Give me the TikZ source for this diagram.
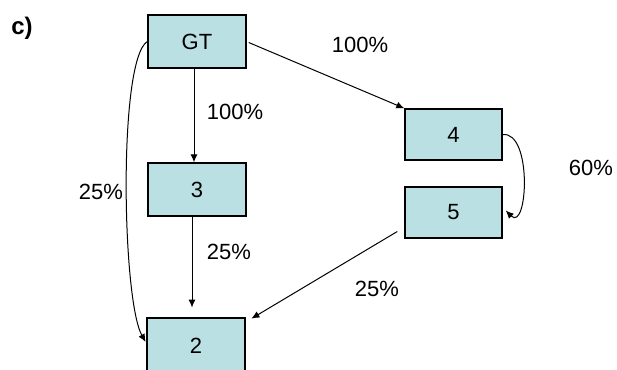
\documentclass[tikz,border=0pt]{standalone}
\usepackage{fontspec}
\setmainfont{Liberation Sans}
\usetikzlibrary{arrows.meta}
\definecolor{boxfill}{RGB}{187,224,227}
\tikzset{
  box/.style={draw=black, line width=1.4pt, fill=boxfill, minimum width=98pt, minimum height=53pt, inner sep=0pt, font=\fontsize{22}{24}\selectfont},
  arr/.style={draw=black, line width=1pt, -{Latex[length=8pt,width=7pt]}},
  lbl/.style={font=\fontsize{22}{24}\selectfont, inner sep=0pt}
}
\begin{document}
\begin{tikzpicture}[x=1pt,y=-1pt]
\useasboundingbox (0,0) rectangle (617,369);
\clip (0,0) rectangle (617,369);
\node[font=\bfseries\fontsize{24}{26}\selectfont, inner sep=0pt] (c) at (22,28) {c)};
\node[box] (GT) at (197,41.5) {GT};
\node[box] (n3) at (197,189.5) {3};
\node[box, minimum width=97pt, minimum height=51pt] (n4) at (453.5,134.5) {4};
\node[box, minimum width=97pt, minimum height=51pt] (n5) at (453.5,212.5) {5};
\node[box, line width=2.8pt, minimum height=56pt] (n2) at (196,346) {2};
% labels
\node[lbl] (l1) at (235,112) {100\%};
\node[lbl] (l2) at (360,45) {100\%};
\node[lbl] (l3) at (591,168) {60\%};
\node[lbl] (l4) at (101,192) {25\%};
\node[lbl] (l5) at (229,252) {25\%};
\node[lbl] (l6) at (377,289) {25\%};
% connectors
\draw[arr] ([xshift=-3pt]GT.south) -- ([xshift=-3pt]n3.north);
\draw[arr, shorten >=9pt] ([xshift=-5pt]n3.south) -- ([xshift=-4pt]n2.north);
\draw[arr] ([shift={(2pt,-1pt)}]GT.east) -- (n4.north west);
\draw[arr] (n4.east) .. controls +(30,-3) and +(22,22) .. ([shift={(3pt,2pt)}]n5.east);
\draw[arr] ([shift={(-7pt,-19pt)}]n5.west) -- ([shift={(5pt,-2pt)}]n2.north east);
\draw[arr] (GT.west) .. controls (118,60) and (122,300) .. ([yshift=4pt]n2.west);
\end{tikzpicture}
\end{document}
